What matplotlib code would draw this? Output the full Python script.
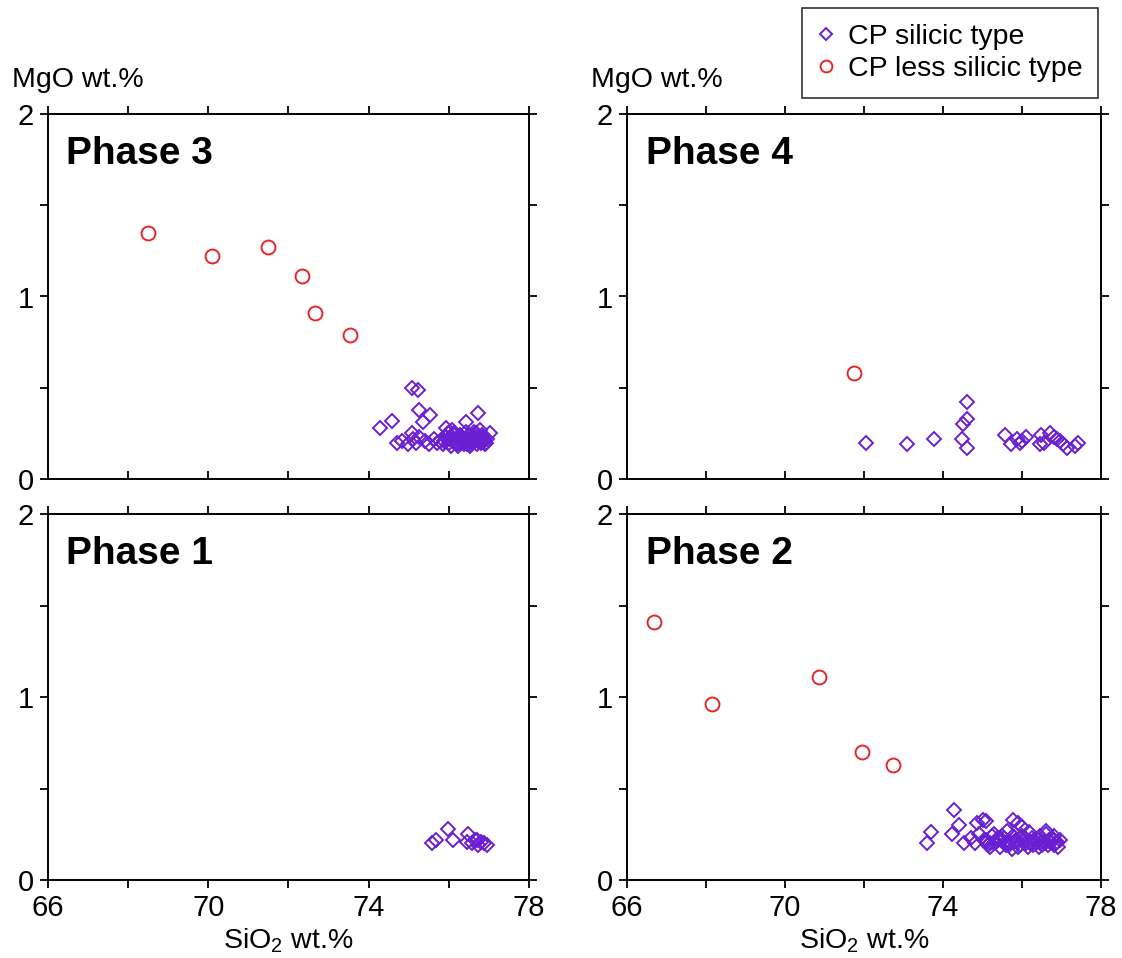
import numpy as np
import matplotlib
matplotlib.use("Agg")
import matplotlib.pyplot as plt

plt.rcParams['font.family'] = ['Liberation Sans', 'DejaVu Sans']
plt.rcParams['mathtext.fontset'] = 'custom'
plt.rcParams['mathtext.rm'] = 'Liberation Sans'

# CP less silicic type (circles)
p3_less_sio2 = [68.5, 70.1, 71.5, 72.34, 72.66, 73.53]
p3_less_mgo = [1.35, 1.22, 1.27, 1.11, 0.91, 0.79]
p4_less_sio2 = [71.75]
p4_less_mgo = [0.58]
p2_less_sio2 = [66.68, 68.15, 70.85, 71.96, 72.73]
p2_less_mgo = [1.41, 0.96, 1.11, 0.70, 0.63]

# CP silicic type (diamonds)
p3_sil_sio2 = [75.07, 75.24, 74.28, 74.59, 75.26, 75.53, 75.35, 75.08, 76.72, 76.44,
               75.93, 77.03, 74.70, 74.83, 74.99, 75.10, 75.18, 75.25, 75.40, 75.50,
               75.62, 75.70, 75.78, 75.85, 75.92, 76.00, 76.05, 76.10, 76.15, 76.20,
               76.25, 76.30, 76.35, 76.40, 76.45, 76.50, 76.55, 76.60, 76.65, 76.70,
               76.75, 76.80, 76.85, 76.90, 76.95, 76.12, 76.28, 76.42, 76.58, 76.68,
               76.82, 76.22, 76.38, 76.52, 76.62, 76.78, 75.98, 76.08, 76.88, 76.35,
               76.18, 76.32, 76.48, 76.56, 76.64, 76.74, 76.86, 76.02, 76.26, 76.44,
               76.54, 76.66, 76.92, 75.88, 76.14, 76.36, 76.60, 76.84]
p3_sil_mgo = [0.50, 0.49, 0.28, 0.32, 0.38, 0.35, 0.31, 0.25, 0.36, 0.31,
              0.28, 0.25, 0.20, 0.21, 0.19, 0.22, 0.20, 0.23, 0.21, 0.19,
              0.22, 0.20, 0.21, 0.19, 0.23, 0.20, 0.18, 0.22, 0.20, 0.19,
              0.23, 0.21, 0.20, 0.22, 0.19, 0.24, 0.21, 0.20, 0.22, 0.19,
              0.23, 0.20, 0.21, 0.19, 0.22, 0.25, 0.24, 0.26, 0.23, 0.25,
              0.24, 0.18, 0.19, 0.18, 0.26, 0.27, 0.25, 0.27, 0.21, 0.22,
              0.21, 0.23, 0.21, 0.22, 0.24, 0.21, 0.23, 0.22, 0.20, 0.22,
              0.19, 0.21, 0.20, 0.21, 0.24, 0.20, 0.23, 0.22]
p4_sil_sio2 = [72.04, 73.09, 73.76, 74.60, 74.60, 74.50, 74.49, 74.60, 75.58, 75.73,
               75.88, 76.00, 76.09, 75.96, 76.47, 76.45, 76.55, 76.70, 76.80, 76.88,
               76.96, 77.05, 77.13, 77.43, 77.35]
p4_sil_mgo = [0.20, 0.19, 0.22, 0.42, 0.33, 0.30, 0.22, 0.17, 0.24, 0.19,
              0.22, 0.21, 0.23, 0.20, 0.24, 0.19, 0.20, 0.25, 0.23, 0.22,
              0.21, 0.19, 0.17, 0.20, 0.18]
p1_sil_sio2 = [75.57, 75.68, 75.99, 76.10, 76.49, 76.45, 76.57, 76.65, 76.72, 76.80,
               76.88, 76.95, 76.70]
p1_sil_mgo = [0.20, 0.22, 0.28, 0.22, 0.25, 0.21, 0.20, 0.22, 0.19, 0.21,
              0.20, 0.19, 0.22]
p2_sil_sio2 = [73.60, 73.70, 74.27, 74.41, 74.24, 74.53, 74.87, 75.00, 75.10, 75.78,
               75.90, 76.00, 74.70, 74.80, 74.90, 75.05, 75.15, 75.25, 75.35, 75.45,
               75.55, 75.65, 75.75, 75.85, 75.95, 76.05, 76.15, 76.25, 76.35, 76.45,
               76.55, 76.65, 76.75, 76.85, 76.95, 75.20, 75.40, 75.60, 75.80, 76.00,
               76.20, 76.40, 76.60, 76.80, 75.30, 75.50, 75.70, 75.90, 76.10, 76.30,
               76.50, 76.70, 76.90, 75.12, 75.62, 76.18, 76.62, 76.82,
               75.08, 75.28, 75.48, 75.68, 75.88, 76.08, 76.28, 76.48, 76.68, 76.88,
               75.18, 75.38, 75.58, 75.78, 75.98, 76.22, 76.42, 76.58, 76.78]
p2_sil_mgo = [0.20, 0.26, 0.38, 0.30, 0.25, 0.20, 0.31, 0.33, 0.32, 0.33,
              0.31, 0.29, 0.23, 0.20, 0.25, 0.22, 0.19, 0.24, 0.21, 0.18,
              0.23, 0.20, 0.17, 0.22, 0.19, 0.21, 0.18, 0.23, 0.20, 0.24,
              0.21, 0.19, 0.23, 0.20, 0.22, 0.20, 0.22, 0.19, 0.21, 0.24,
              0.20, 0.22, 0.25, 0.19, 0.25, 0.24, 0.21, 0.18, 0.20, 0.22,
              0.19, 0.21, 0.18, 0.21, 0.27, 0.26, 0.27, 0.24,
              0.22, 0.20, 0.22, 0.19, 0.21, 0.23, 0.19, 0.21, 0.22, 0.21,
              0.18, 0.23, 0.20, 0.24, 0.23, 0.21, 0.18, 0.20, 0.22]

panels = [
    ("Phase 3", p3_sil_sio2, p3_sil_mgo, p3_less_sio2, p3_less_mgo),
    ("Phase 4", p4_sil_sio2, p4_sil_mgo, p4_less_sio2, p4_less_mgo),
    ("Phase 1", p1_sil_sio2, p1_sil_mgo, [], []),
    ("Phase 2", p2_sil_sio2, p2_sil_mgo, p2_less_sio2, p2_less_mgo),
]

purple = '#6a1fd3'
red = '#e3262b'

W, H = 1122, 958
fig = plt.figure(figsize=(W / 100, H / 100), dpi=100)

# axes boxes in pixels: left, top, right, bottom
boxes = [(48, 114, 529, 479), (627, 114, 1101, 479),
         (48, 514, 529, 880), (627, 514, 1101, 880)]

for i, (name, sx, sy, lx, ly) in enumerate(panels):
    l, t, r, b = boxes[i]
    ax = fig.add_axes([l / W, 1 - b / H, (r - l) / W, (b - t) / H])
    ax.plot(sx, sy, 'D', ms=7.6, mfc='none', mec=purple, mew=1.4, ls='none',
            label='CP silicic type')
    ax.plot(lx, ly, 'o', ms=10, mfc='none', mec=red, mew=1.4, ls='none',
            label='CP less silicic type')
    ax.set_xlim(66, 78)
    ax.set_ylim(0, 2)
    ax.set_xticks(np.arange(66, 79, 2))
    ax.set_xticklabels(['66', '', '70', '', '74', '', '78'])
    ax.set_yticks(np.arange(0, 2.01, 0.5))
    ax.set_yticklabels(['0', '', '1', '', '2'])
    for sp in ax.spines.values():
        sp.set_linewidth(1.4)
    top_row = i < 2
    ax.tick_params(axis='both', which='both', labelsize=21, width=1.3,
                   length=6, pad=4, top=True, right=True, direction='out')
    if top_row:
        ax.tick_params(axis='x', bottom=True, labelbottom=False, direction='in')
        # top ticks point out, bottom ticks point in
        for tk in ax.xaxis.get_major_ticks():
            tk.tick2line.set_marker(matplotlib.lines.TICKUP)
    ax.text(0.038 if i % 2 == 0 else 0.04, 0.89, name, transform=ax.transAxes,
            fontsize=28, fontweight='bold', va='center', ha='left')
    if top_row:
        fig.text((l - 36) / W, 1 - 80 / H, 'MgO wt.%', fontsize=20.5,
                 va='center', ha='left')
    else:
        fig.text((l + r) / 2 / W, 1 - 941 / H, r'SiO$_\mathregular{2}$ wt.%',
                 fontsize=20.5, va='center', ha='center')
    if i == 0:
        handles, labels = ax.get_legend_handles_labels()

leg = fig.legend(handles, labels, loc='upper right',
                 bbox_to_anchor=(1098 / W, 1 - 8 / H), fontsize=20.5,
                 frameon=True, fancybox=False, edgecolor='black',
                 handletextpad=0.45, handlelength=0.6, borderpad=0.55,
                 labelspacing=0.22, borderaxespad=0)
leg.get_frame().set_linewidth(1.2)
for h in leg.legend_handles:
    h.set_markersize(6.5 if h.get_marker() == 'D' else 8.5)

fig.savefig('out.png', dpi=100)
